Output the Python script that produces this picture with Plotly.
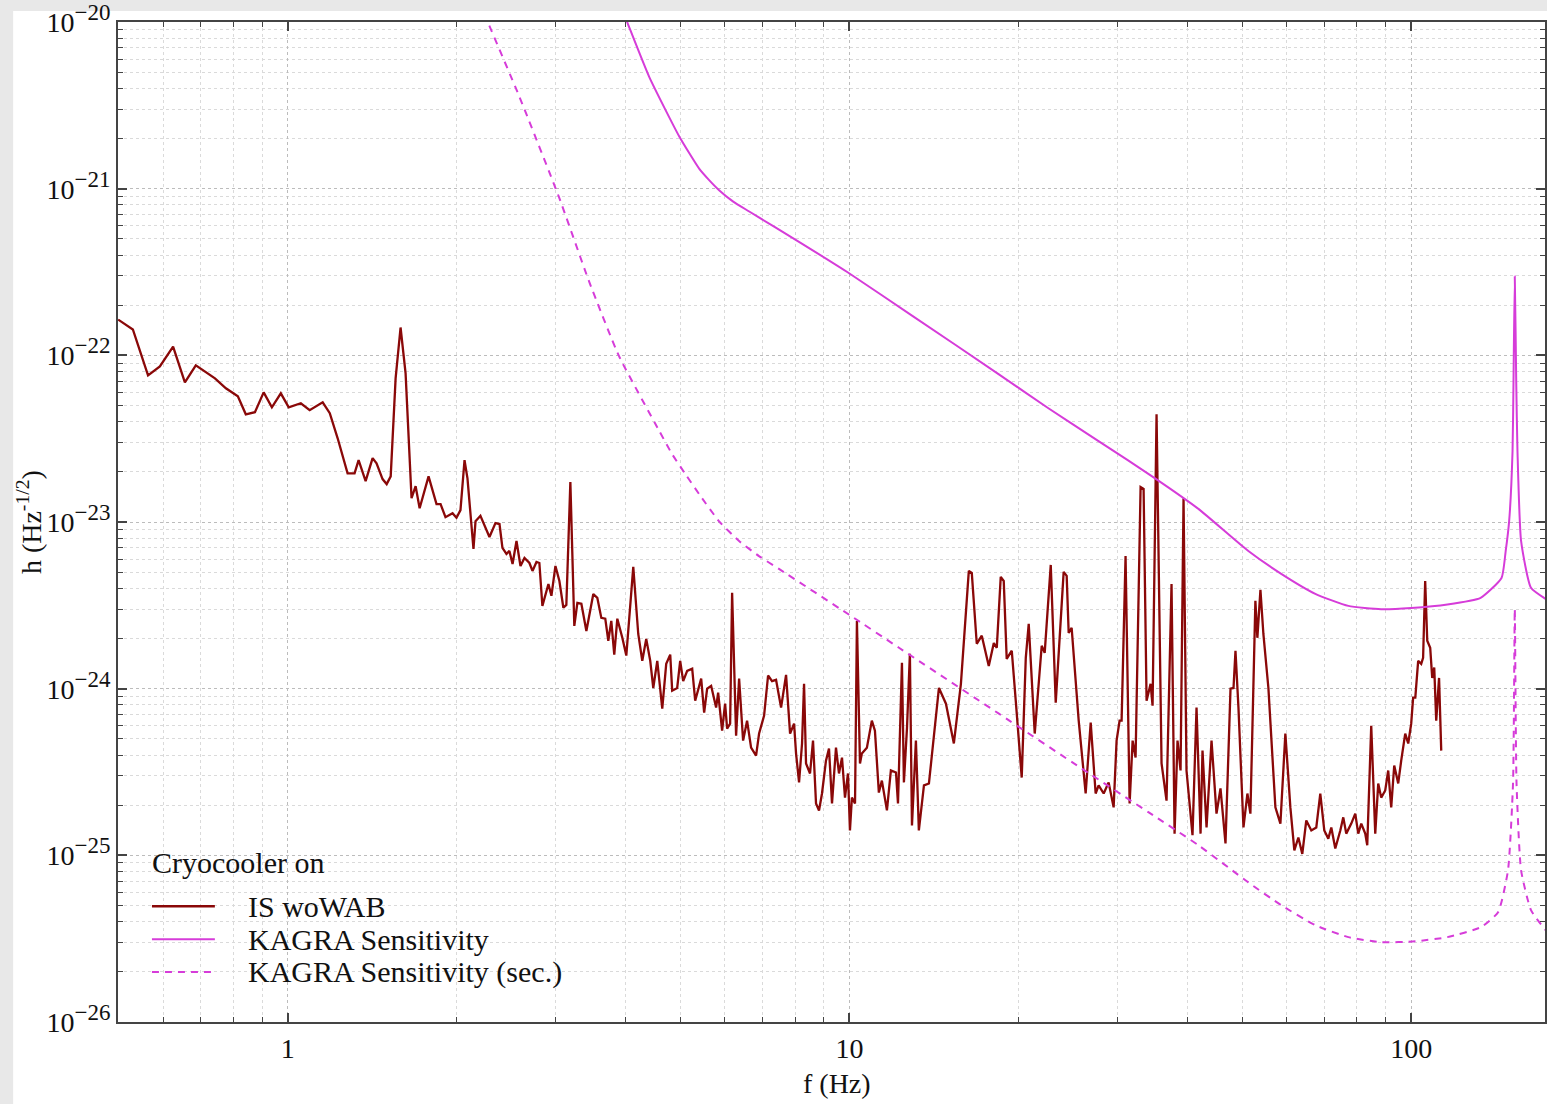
import plotly.graph_objects as go

# ---------------- data ----------------
# IS woWAB (cryocooler on) : frequency (Hz) and strain ASD (1/sqrt(Hz))
freq_is = [
    0.499, 0.530, 0.564, 0.592, 0.625, 0.656, 0.686, 0.742, 0.776, 0.815,
    0.842, 0.874, 0.906, 0.937, 0.972, 1.004, 1.055, 1.094, 1.154, 1.188,
    1.227, 1.278, 1.315, 1.337, 1.376, 1.416, 1.439, 1.475, 1.500, 1.525,
    1.556, 1.588, 1.621, 1.661, 1.689, 1.717, 1.781, 1.840, 1.871, 1.909,
    1.965, 1.997, 2.030, 2.064, 2.089, 2.115, 2.141, 2.159, 2.203, 2.286,
    2.343, 2.382, 2.411, 2.451, 2.481, 2.513, 2.554, 2.596, 2.639, 2.693,
    2.727, 2.772, 2.805, 2.840, 2.911, 2.947, 2.996, 3.045, 3.095, 3.133,
    3.185, 3.237, 3.278, 3.332, 3.401, 3.499, 3.557, 3.616, 3.675, 3.721,
    3.767, 3.813, 3.861, 3.941, 4.006, 4.122, 4.207, 4.277, 4.347, 4.419,
    4.474, 4.548, 4.642, 4.718, 4.796, 4.835, 4.935, 4.996, 5.058, 5.141,
    5.248, 5.313, 5.378, 5.445, 5.512, 5.580, 5.672, 5.789, 5.837, 5.933,
    6.006, 6.056, 6.131, 6.181, 6.283, 6.361, 6.466, 6.572, 6.681, 6.819,
    6.904, 7.047, 7.163, 7.281, 7.401, 7.555, 7.711, 7.839, 7.968, 8.034,
    8.133, 8.233, 8.301, 8.369, 8.507, 8.612, 8.718, 8.826, 8.935, 9.082,
    9.195, 9.309, 9.462, 9.579, 9.698, 9.818, 9.939, 10.02, 10.10, 10.23,
    10.31, 10.44, 10.52, 10.74, 10.96, 11.10, 11.28, 11.42, 11.66, 11.85,
    12.10, 12.20, 12.40, 12.50, 12.66, 12.81, 12.92, 13.13, 13.29, 13.57,
    13.85, 14.43, 14.85, 15.34, 15.79, 16.31, 16.51, 16.85, 17.20, 17.70,
    18.07, 18.29, 18.59, 18.82, 19.05, 19.45, 19.77, 20.26, 20.60, 20.85,
    21.37, 21.99, 22.26, 22.82, 23.29, 24.06, 24.36, 24.56, 24.86, 25.59,
    26.33, 26.88, 27.43, 27.77, 28.35, 28.93, 29.53, 29.89, 30.26, 30.51,
    31.01, 31.53, 31.92, 32.31, 32.98, 33.39, 33.80, 34.36, 34.64, 35.21,
    35.94, 36.68, 37.44, 37.91, 38.37, 38.85, 39.33, 39.81, 40.80, 41.48,
    42.17, 42.51, 43.22, 44.11, 45.02, 45.76, 46.71, 47.68, 48.27, 48.66,
    49.26, 50.28, 51.10, 51.73, 52.80, 53.23, 53.90, 54.56, 55.69, 56.38,
    57.31, 58.50, 59.70, 60.94, 61.94, 62.97, 63.99, 65.05, 66.40, 67.77,
    68.89, 70.03, 71.19, 72.07, 73.26, 74.78, 75.70, 76.63, 78.22, 79.51,
    80.49, 81.49, 82.83, 83.51, 84.89, 86.30, 87.36, 88.44, 89.90, 91.01,
    92.13, 93.28, 94.82, 95.99, 97.58, 98.79, 100.0, 100.8, 101.7, 102.9,
    104.2, 105.0, 105.9, 106.8, 108.1, 109.0, 109.9, 110.8, 112.1, 113.1,
]
h_is = [
    1.64e-22, 1.43e-22, 7.59e-23, 8.59e-23, 1.13e-22, 6.89e-23, 8.71e-23, 7.28e-23, 6.35e-23, 5.68e-23,
    4.43e-23, 4.56e-23, 6.00e-23, 4.88e-23, 5.92e-23, 4.88e-23, 5.16e-23, 4.69e-23, 5.23e-23, 4.50e-23,
    3.18e-23, 1.96e-23, 1.96e-23, 2.35e-23, 1.76e-23, 2.42e-23, 2.25e-23, 1.81e-23, 1.69e-23, 1.88e-23,
    7.28e-23, 1.47e-22, 7.80e-23, 1.39e-23, 1.64e-23, 1.21e-23, 1.88e-23, 1.28e-23, 1.28e-23, 1.07e-23,
    1.13e-23, 1.06e-23, 1.18e-23, 2.35e-23, 1.83e-23, 1.06e-23, 6.89e-24, 1.01e-23, 1.09e-23, 8.13e-24,
    9.86e-24, 9.73e-24, 6.99e-24, 6.43e-24, 6.71e-24, 5.60e-24, 7.70e-24, 5.45e-24, 6.09e-24, 5.68e-24,
    5.09e-24, 5.76e-24, 5.68e-24, 3.14e-24, 4.25e-24, 3.61e-24, 5.45e-24, 4.43e-24, 3.06e-24, 3.18e-24,
    1.74e-23, 2.38e-24, 3.27e-24, 3.23e-24, 2.22e-24, 3.70e-24, 3.51e-24, 2.66e-24, 2.63e-24, 1.94e-24,
    2.55e-24, 1.60e-24, 2.63e-24, 2.02e-24, 1.58e-24, 5.38e-24, 2.13e-24, 1.47e-24, 1.99e-24, 1.47e-24,
    1.01e-24, 1.47e-24, 7.59e-25, 1.41e-24, 1.60e-24, 9.73e-25, 1.01e-24, 1.47e-24, 1.11e-24, 1.28e-24,
    1.32e-24, 8.47e-25, 9.73e-25, 1.15e-24, 7.18e-25, 1.00e-24, 1.04e-24, 7.70e-25, 9.46e-25, 5.60e-25,
    8.13e-25, 5.76e-25, 6.17e-25, 3.76e-24, 5.23e-25, 1.15e-24, 4.88e-25, 6.43e-25, 4.43e-25, 3.97e-25,
    5.38e-25, 6.89e-25, 1.20e-24, 1.11e-24, 1.13e-24, 7.70e-25, 1.21e-24, 5.38e-25, 6.17e-25, 4.08e-25,
    2.74e-25, 4.69e-25, 1.07e-24, 3.56e-25, 3.10e-25, 4.88e-25, 2.05e-25, 1.86e-25, 2.35e-25, 3.70e-25,
    4.37e-25, 2.05e-25, 4.43e-25, 3.10e-25, 3.86e-25, 2.22e-25, 3.10e-25, 1.41e-25, 2.22e-25, 2.05e-25,
    2.55e-24, 3.56e-25, 4.08e-25, 4.43e-25, 6.43e-25, 5.60e-25, 2.38e-25, 2.81e-25, 1.86e-25, 3.23e-25,
    3.14e-25, 2.05e-25, 1.43e-24, 2.74e-25, 5.84e-25, 1.62e-24, 1.51e-25, 4.88e-25, 1.41e-25, 2.63e-25,
    2.70e-25, 1.01e-24, 8.13e-25, 4.69e-25, 1.07e-24, 5.09e-24, 4.95e-24, 1.86e-24, 2.08e-24, 1.37e-24,
    1.88e-24, 1.76e-24, 4.69e-24, 4.43e-24, 1.51e-24, 1.69e-24, 8.47e-25, 2.93e-25, 1.53e-24, 2.45e-24,
    5.38e-25, 1.81e-24, 1.64e-24, 5.53e-24, 8.25e-25, 5.02e-24, 4.75e-24, 2.16e-24, 2.32e-24, 6.43e-25,
    2.35e-25, 6.26e-25, 2.35e-25, 2.63e-25, 2.35e-25, 2.74e-25, 1.94e-25, 4.88e-25, 6.43e-25, 6.43e-25,
    6.26e-24, 2.05e-25, 4.88e-25, 3.86e-25, 1.62e-23, 1.58e-23, 8.47e-25, 1.07e-24, 7.91e-25, 4.43e-23,
    3.56e-25, 2.13e-25, 4.25e-24, 1.35e-25, 4.88e-25, 3.23e-25, 1.39e-23, 3.23e-25, 1.32e-25, 7.70e-25,
    1.35e-25, 4.25e-25, 1.47e-25, 4.88e-25, 1.78e-25, 2.52e-25, 1.18e-25, 1.00e-24, 1.01e-24, 1.69e-24,
    7.70e-25, 1.47e-25, 2.35e-25, 1.78e-25, 3.37e-24, 2.02e-24, 3.92e-24, 2.13e-24, 1.01e-24, 5.09e-25,
    1.94e-25, 1.55e-25, 5.38e-25, 1.94e-25, 1.07e-25, 1.28e-25, 1.02e-25, 1.62e-25, 1.41e-25, 1.47e-25,
    2.35e-25, 1.41e-25, 1.26e-25, 1.47e-25, 1.10e-25, 1.41e-25, 1.69e-25, 1.35e-25, 1.55e-25, 1.78e-25,
    1.35e-25, 1.55e-25, 1.35e-25, 1.15e-25, 6.00e-25, 1.35e-25, 2.70e-25, 2.22e-25, 2.45e-25, 3.23e-25,
    1.94e-25, 3.46e-25, 2.70e-25, 3.70e-25, 5.38e-25, 4.69e-25, 6.17e-25, 8.83e-25, 8.83e-25, 1.47e-24,
    1.41e-24, 1.53e-24, 4.43e-24, 1.94e-24, 1.76e-24, 1.16e-24, 1.34e-24, 6.43e-25, 1.16e-24, 4.25e-25,
]

# KAGRA design sensitivity
freq_kagra = [3.89, 4.02, 4.40, 4.98, 5.40, 5.62, 5.86, 6.20, 6.63, 8.13,
              10.0, 13.0, 18.45, 22.6, 27.8, 35.0, 41.8, 51.3, 58.7, 67.5,
              77.3, 88.4, 100.0, 116.0, 132.9, 144.8, 147.3, 149.4, 151.5, 152.1,
              152.9, 153.8, 154.6, 156.9, 163.4, 173.4]
h_kagra = [1.32e-20, 1.0e-20, 4.69e-21, 2.05e-21, 1.32e-21, 1.13e-21, 9.8e-22, 8.4e-22, 7.3e-22, 4.8e-22,
           3.1e-22, 1.71e-22, 7.7e-23, 4.82e-23, 3.05e-23, 1.83e-23, 1.20e-23, 6.7e-24, 4.89e-24, 3.71e-24,
           3.14e-24, 3.0e-24, 3.05e-24, 3.2e-24, 3.51e-24, 4.62e-24, 6.7e-24, 1.01e-23, 2.66e-23, 6.98e-23,
           2.97e-22, 6.98e-23, 2.66e-23, 7.7e-24, 4.03e-24, 3.46e-24]

# KAGRA sensitivity (sec.)
freq_kagra_sec = [2.19, 2.27, 2.585, 3.04, 3.44, 3.89, 4.59, 4.835, 5.12, 5.40,
                  5.86, 6.36, 6.90, 7.49, 10.0, 12.25, 18.45, 25.9, 34.1, 41.8,
                  51.3, 58.7, 67.5, 77.3, 88.4, 101.7, 116.0, 133.2, 142.8, 148.7,
                  151.8, 152.9, 154.0, 156.9, 163.4, 173.4]
h_kagra_sec = [1.32e-20, 1.0e-20, 3.56e-21, 8.9e-22, 2.77e-22, 9.86e-23, 3.5e-23, 2.55e-23, 1.91e-23, 1.47e-23,
               1.01e-23, 7.69e-24, 6.25e-24, 5.23e-24, 2.77e-24, 1.76e-24, 7.08e-25, 3.32e-25, 1.81e-25, 1.15e-25,
               6.88e-26, 5.02e-26, 3.81e-26, 3.23e-26, 3.01e-26, 3.05e-26, 3.23e-26, 3.71e-26, 4.56e-26, 8.13e-26,
               2.7e-25, 3.01e-24, 2.7e-25, 8.13e-26, 4.69e-26, 3.56e-26]

# axis ticks
y_tick_exponents = [-26, -25, -24, -23, -22, -21, -20]
x_tick_vals = [1, 10, 100]

legend_title = "Cryocooler on"
legend_names = ["IS woWAB", "KAGRA Sensitivity", "KAGRA Sensitivity (sec.)"]

# ---------------- styling ----------------
RED = "#8a0808"
MAG = "#d63cd9"
FONT = "Liberation Serif"
W, H = 1547, 1104
ML, MR, MT, MB = 118, 0, 20, 82
PW, PH = W - ML - MR, H - MT - MB


def px_x(p):
    return (p - ML) / PW


def px_y(p):
    return (H - MB - p) / PH


fig = go.Figure()
fig.add_trace(go.Scatter(x=freq_is, y=h_is, mode="lines", name=legend_names[0],
                         line=dict(color=RED, width=2.3)))
fig.add_trace(go.Scatter(x=freq_kagra, y=h_kagra, mode="lines", name=legend_names[1],
                         line=dict(color=MAG, width=2, shape="spline", smoothing=0.5)))
fig.add_trace(go.Scatter(x=freq_kagra_sec, y=h_kagra_sec, mode="lines", name=legend_names[2],
                         line=dict(color=MAG, width=2, dash="7px,6px", shape="spline", smoothing=0.5)))

axis_common = dict(
    type="log", ticks="inside", ticklen=9, tickwidth=1.5, tickcolor="#444",
    showline=True, linecolor="#444", linewidth=2, mirror="ticks",
    showgrid=True, gridcolor="#bcbcbc", griddash="dot", gridwidth=1, zeroline=False,
    ticklabeloverflow="allow",
    minor=dict(dtick="D1", ticks="inside", ticklen=5, tickwidth=1.2, tickcolor="#444",
               showgrid=True, gridcolor="#dadada", griddash="dot", gridwidth=1),
)

y_tick_vals = [10.0 ** e for e in y_tick_exponents]
y_tick_text = ["10<sup><span style='font-size:23px'>\u2212%d</span></sup>" % (-e) for e in y_tick_exponents]

fig.update_layout(
    width=W, height=H,
    margin=dict(l=ML, r=MR, t=MT, b=MB),
    paper_bgcolor="#e8e8e8", plot_bgcolor="white",
    showlegend=False,
    xaxis=dict(axis_common, range=[-0.3022, 2.2382],
               tickmode="array", tickvals=x_tick_vals, ticktext=[str(v) for v in x_tick_vals],
               tickfont=dict(family=FONT, size=28, color="#111")),
    yaxis=dict(axis_common, range=[-26.0, -19.9995],
               tickmode="array", tickvals=y_tick_vals, ticktext=y_tick_text,
               tickfont=dict(family=FONT, size=28, color="#111")),
    font=dict(family=FONT, size=28, color="#111"),
)

# white figure area (the reference has a thin grey border on the top and left)
fig.add_shape(type="rect", xref="paper", yref="paper", layer="below",
              x0=px_x(13), x1=px_x(W + 5), y0=px_y(H + 5), y1=px_y(9),
              fillcolor="white", line=dict(width=0))

# axis titles
fig.add_annotation(xref="paper", yref="paper", x=px_x(838), y=px_y(1084),
                   text="f (Hz)", showarrow=False, xanchor="center", yanchor="middle",
                   font=dict(family=FONT, size=28, color="#111"))
fig.add_annotation(xref="paper", yref="paper", x=px_x(29), y=px_y(521),
                   text="h (Hz<sup>-1/2</sup>)", showarrow=False, textangle=-90,
                   xanchor="center", yanchor="middle",
                   font=dict(family=FONT, size=28, color="#111"))

# legend drawn inside the axes (bottom left)
fig.add_annotation(xref="paper", yref="paper", x=px_x(150), y=px_y(862),
                   text=legend_title, showarrow=False, xanchor="left", yanchor="middle",
                   font=dict(family=FONT, size=30, color="#111"))
leg_rows = [906, 939, 972]
leg_styles = [dict(color=RED, width=2.3), dict(color=MAG, width=2), dict(color=MAG, width=2, dash="7px,6px")]
for row, name, st in zip(leg_rows, legend_names, leg_styles):
    fig.add_shape(type="line", xref="paper", yref="paper",
                  x0=px_x(152), x1=px_x(215), y0=px_y(row), y1=px_y(row), line=st)
    fig.add_annotation(xref="paper", yref="paper", x=px_x(246), y=px_y(row),
                       text=name, showarrow=False, xanchor="left", yanchor="middle",
                       font=dict(family=FONT, size=30, color="#111"))

fig.write_html(
    "out.html",
    config={"displayModeBar": False},
    post_script="document.body.style.margin='0';document.body.style.overflow='hidden';"
                "document.body.style.background='#e8e8e8';",
)
